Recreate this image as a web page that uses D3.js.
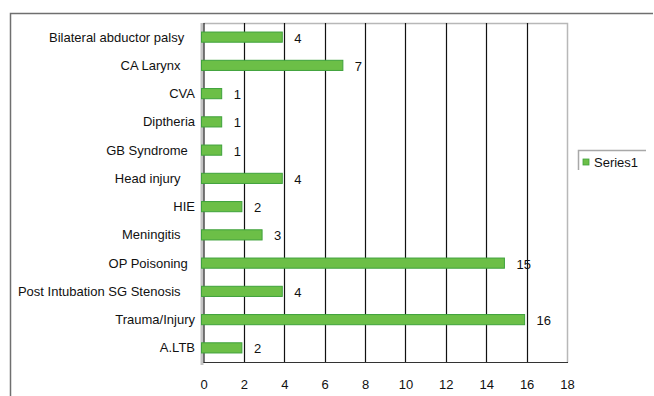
<!DOCTYPE html>
<html>
<head>
<meta charset="utf-8">
<script src="https://cdn.jsdelivr.net/npm/d3@7"></script>
<style>
  html, body { margin: 0; padding: 0; background: #fff; }
  svg { display: block; font-family: "Liberation Sans", Arial, sans-serif; }
  text { white-space: pre; }
</style>
</head>
<body>
<svg id="chart" width="654" height="396"></svg>
<script>
// Cases by diagnosis
const categories = [
  "Bilateral abductor palsy   ",
  "CA Larynx    ",
  "CVA",
  "Diptheria",
  "GB Syndrome  ",
  "Head injury    ",
  "HIE",
  "Meningitis    ",
  "OP Poisoning  ",
  "Post Intubation SG Stenosis    ",
  "Trauma/Injury",
  "A.LTB"
];
const series1 = [4, 7, 1, 1, 1, 4, 2, 3, 15, 4, 16, 2];
const xTicks = [0, 2, 4, 6, 8, 10, 12, 14, 16, 18];
const seriesName = "Series1";

const svg = d3.select("#chart");
const plot = { left: 203.5, right: 567, top: 23, bottom: 362 };
const fontSize = 13;

const x = d3.scaleLinear().domain([0, 18]).range([plot.left, plot.right]);
const y = d3.scaleBand().domain(categories).range([plot.top, plot.bottom]).paddingInner(0.64).paddingOuter(0.32);

// outer frame (top and left edges)
svg.append("path")
  .attr("d", "M10.5,396 V13.5 H653")
  .attr("fill", "none").attr("stroke", "#6f6f6f").attr("stroke-width", 1.5);

// plot border
svg.append("path")
  .attr("d", `M${plot.left},${plot.top + 0.5} H${plot.right + 0.5} V${plot.bottom + 0.5}`)
  .attr("fill", "none").attr("stroke", "#b8b8b8").attr("stroke-width", 1.5);

// vertical gridlines
svg.append("g")
  .selectAll("line")
  .data(xTicks.filter(d => d > 0 && d < 18))
  .join("line")
  .attr("x1", d => Math.round(x(d)) + 0.5).attr("x2", d => Math.round(x(d)) + 0.5)
  .attr("y1", plot.top).attr("y2", plot.bottom)
  .attr("stroke", "#111").attr("stroke-width", 1.2);

// bottom edge
svg.append("line")
  .attr("x1", plot.left).attr("x2", plot.right + 1)
  .attr("y1", plot.bottom + 0.5).attr("y2", plot.bottom + 0.5)
  .attr("stroke", "#333").attr("stroke-width", 1.2);

// left axis line with grey shadow
svg.append("line")
  .attr("x1", plot.left - 1.5).attr("x2", plot.left - 1.5)
  .attr("y1", plot.top).attr("y2", plot.bottom + 3)
  .attr("stroke", "#c4c4c4").attr("stroke-width", 3);
svg.append("line")
  .attr("x1", plot.left + 0.5).attr("x2", plot.left + 0.5)
  .attr("y1", plot.top).attr("y2", plot.bottom + 1)
  .attr("stroke", "#222").attr("stroke-width", 1.2);

// bars
svg.append("g")
  .selectAll("rect")
  .data(series1)
  .join("rect")
  .attr("x", x(0) - 2)
  .attr("y", (d, i) => y(categories[i]))
  .attr("width", d => x(d) - x(0))
  .attr("height", y.bandwidth())
  .attr("fill", "#6cbf47")
  .attr("stroke", "#3fa23c")
  .attr("stroke-width", 1);

// value labels
svg.append("g")
  .selectAll("text")
  .data(series1)
  .join("text")
  .attr("x", d => x(d) + 10)
  .attr("y", (d, i) => y(categories[i]) + y.bandwidth() / 2 + 5.5)
  .attr("font-size", fontSize)
  .attr("fill", "#111")
  .text(d => d);

// category labels
svg.append("g")
  .selectAll("text")
  .data(categories)
  .join("text")
  .attr("x", 195)
  .attr("y", d => y(d) + y.bandwidth() / 2 + 4.5)
  .attr("text-anchor", "end")
  .attr("font-size", fontSize)
  .attr("fill", "#111")
  .text(d => d);

// x axis tick labels
const xAxis = d3.axisBottom(x).tickValues(xTicks).tickSize(0).tickPadding(18);
const gx = svg.append("g").attr("transform", `translate(0,${plot.bottom})`).call(xAxis);
gx.select(".domain").remove();
gx.selectAll("text")
  .attr("font-size", fontSize)
  .attr("font-family", "Liberation Sans, Arial, sans-serif")
  .attr("fill", "#111");

// legend
const lg = svg.append("g");
lg.append("path")
  .attr("d", "M578.5,170 V150.5 H646")
  .attr("fill", "none").attr("stroke", "#a8a8a8").attr("stroke-width", 1.5);
lg.append("rect")
  .attr("x", 583).attr("y", 159).attr("width", 6).attr("height", 6)
  .attr("fill", "#6cbf47").attr("stroke", "#3fa23c").attr("stroke-width", 0.8);
lg.append("text")
  .attr("x", 594).attr("y", 167)
  .attr("font-size", fontSize).attr("fill", "#111")
  .text(seriesName);
</script>
</body>
</html>
